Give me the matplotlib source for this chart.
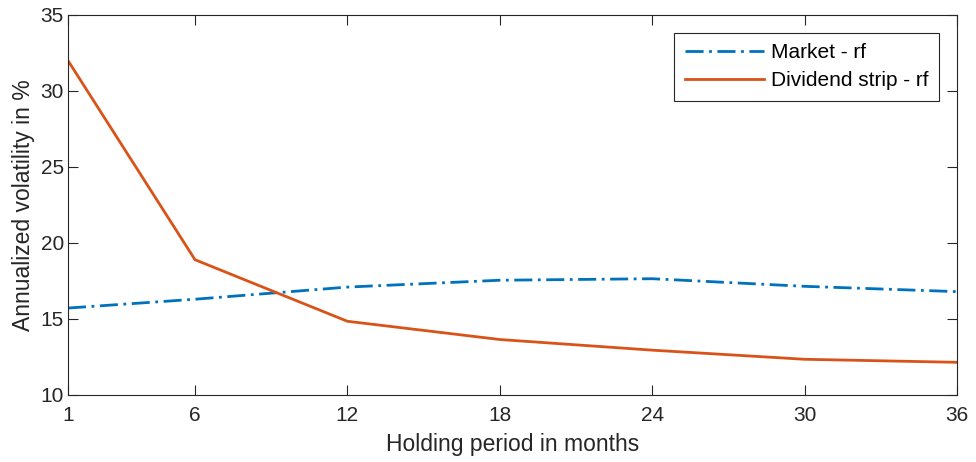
import numpy as np
import matplotlib.pyplot as plt

plt.rcParams['font.family'] = ['Liberation Sans', 'DejaVu Sans']

months = [1, 6, 12, 18, 24, 30, 36]
market_rf = [15.72, 16.3, 17.1, 17.55, 17.65, 17.15, 16.8]
strip_rf = [32.0, 18.9, 14.85, 13.65, 12.95, 12.35, 12.15]

fig = plt.figure(figsize=(9.76, 4.62), dpi=100)
ax = fig.add_axes([68/976, 1 - 395/462, (957-68)/976, (395-15)/462])

ax.plot(months, market_rf, color='#0072BD', lw=2, ls=(0, (6.5, 2, 1, 2)), label='Market - rf')
ax.plot(months, strip_rf, color='#D95319', lw=2, label='Dividend strip - rf')

ax.set_xlim(1, 36)
ax.set_ylim(10, 35)
ax.set_xticks(months)
ax.set_yticks([10, 15, 20, 25, 30, 35])
ax.tick_params(direction='in', length=7, labelsize=15, colors='#262626', top=True, right=True)
ax.tick_params(axis='x', pad=8)
ax.tick_params(axis='y', pad=3)
for s in ax.spines.values():
    s.set_color('#262626')
    s.set_linewidth(0.8)

ax.set_xlabel('Holding period in months', fontsize=16.5, color='#262626', labelpad=6)
ax.set_ylabel('Annualized volatility in %', fontsize=16.5, color='#262626', labelpad=4)

leg = ax.legend(loc='upper right', fontsize=15, fancybox=False, framealpha=1,
                edgecolor='#262626', handlelength=3.8, handletextpad=0.35,
                borderaxespad=0.85, borderpad=0.5, labelspacing=0.45)
leg.get_frame().set_linewidth(0.8)

fig.savefig('out.png', dpi=100)
